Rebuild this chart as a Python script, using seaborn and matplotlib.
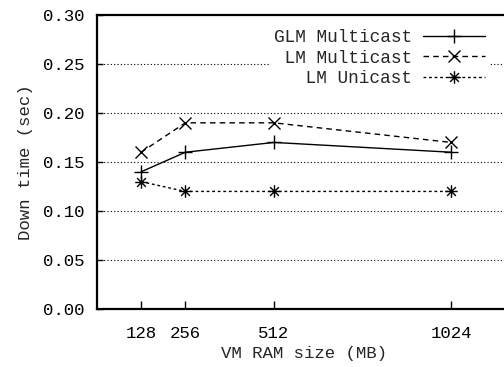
import numpy as np
import pandas as pd
import seaborn as sns
import matplotlib.pyplot as plt
from matplotlib.path import Path

# data
ram_size = [128, 256, 512, 1024]
glm_multicast = [0.14, 0.16, 0.17, 0.16]
lm_multicast = [0.16, 0.19, 0.19, 0.17]
lm_unicast = [0.13, 0.12, 0.12, 0.12]

sns.set_style("white")
plt.rcParams["font.family"] = ["Liberation Mono", "DejaVu Sans Mono"]

# gnuplot style asterisk: "+" and "x" together
star = Path(
    [(-1, 0), (1, 0), (0, -1), (0, 1), (-0.7, -0.7), (0.7, 0.7), (-0.7, 0.7), (0.7, -0.7)],
    [Path.MOVETO, Path.LINETO] * 4,
)

df = pd.DataFrame({"ram": ram_size, "glm": glm_multicast, "lmm": lm_multicast, "lmu": lm_unicast})

fig = plt.figure(figsize=(5.04, 3.67), dpi=100)
ax = fig.add_axes([0.192, 0.158, 0.824, 0.801])

sns.lineplot(data=df, x="ram", y="glm", ax=ax, color="black", lw=1.0,
             marker="+", markersize=10, mew=1.0, mec="black", label="GLM Multicast")
sns.lineplot(data=df, x="ram", y="lmm", ax=ax, color="black", lw=1.0,
             marker="x", markersize=8, mew=1.0, mec="black", dashes=(4, 3), label=" LM Multicast")
sns.lineplot(data=df, x="ram", y="lmu", ax=ax, color="black", lw=1.0,
             marker=star, markersize=9, mew=1.0, mec="black", dashes=(2, 2), label=" LM Unicast")

ax.set_xlim(0, 1200)
ax.set_ylim(0, 0.30)
ax.set_xticks(ram_size)
ax.set_yticks(np.arange(0, 0.31, 0.05))
ax.set_yticklabels(["%.2f" % v for v in np.arange(0, 0.31, 0.05)])

for y in np.arange(0.05, 0.26, 0.05):
    ax.axhline(y, color="black", lw=0.8, ls=(0, (1, 2)), zorder=0)

for s in ["left", "bottom", "top"]:
    ax.spines[s].set_linewidth(1.6)
    ax.spines[s].set_color("black")
ax.spines["right"].set_visible(False)

ax.tick_params(axis="both", direction="in", length=6, width=1, labelsize=12.5,
               colors="black", pad=9)
ax.tick_params(axis="y", left=True, length=4)
ax.tick_params(axis="x", bottom=True, pad=12)

ax.set_xlabel("VM RAM size (MB)", fontsize=12.5, labelpad=4)
ax.set_ylabel("Down time (sec)", fontsize=12.5, labelpad=7)

leg = ax.legend(loc="upper right", bbox_to_anchor=(0.965, 0.995), markerfirst=False,
                frameon=True, fancybox=False, edgecolor="white", facecolor="white",
                framealpha=1, fontsize=12.8, handlelength=3.5, handletextpad=0.6,
                labelspacing=0.2, borderpad=0.2)

fig.savefig("out.png", dpi=100)
